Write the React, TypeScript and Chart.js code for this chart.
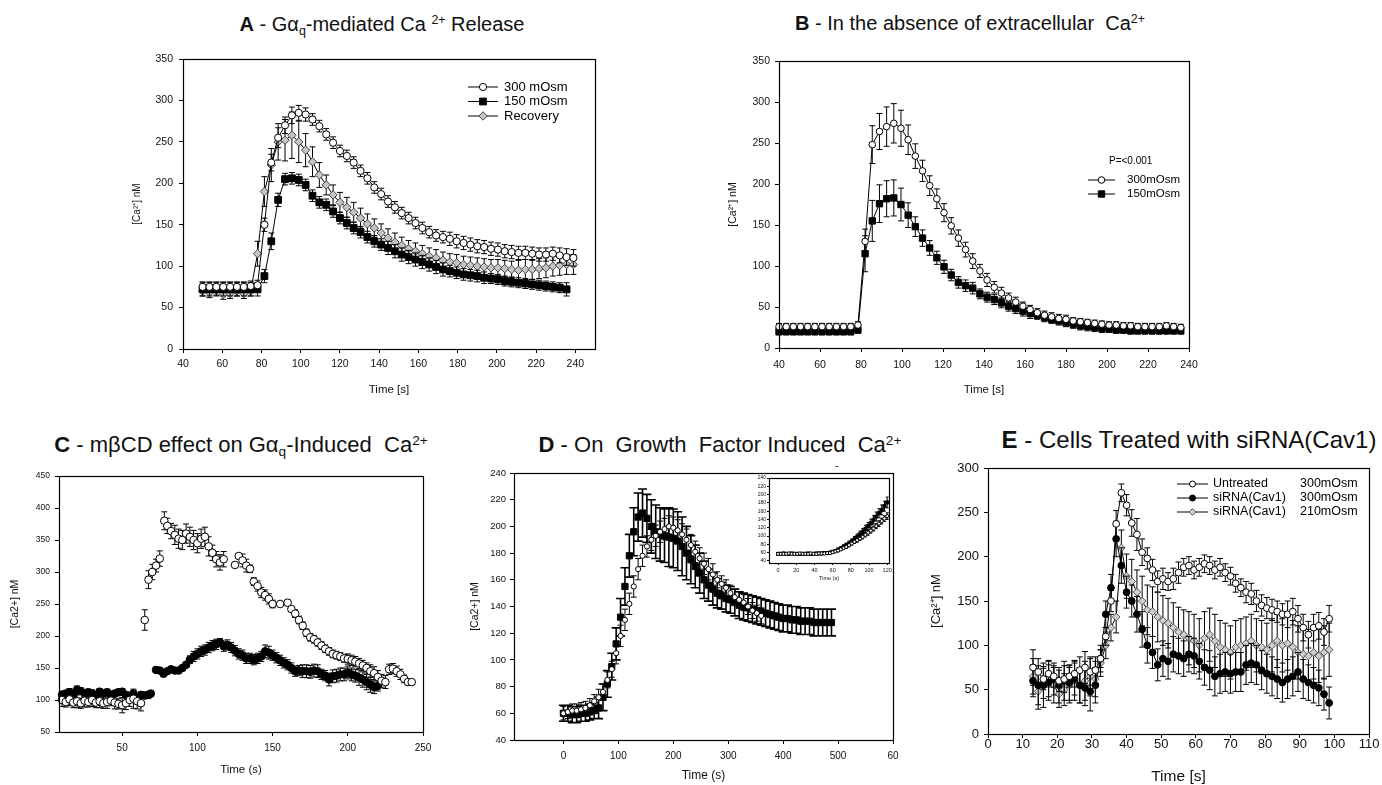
import React, { useEffect, useRef } from 'react';
import { Chart, registerables } from 'chart.js';
Chart.register(...registerables);

const FONT = "'Liberation Sans', Arial, Helvetica, sans-serif";

// ---------------- Panel A data ----------------
const tA = [50, 53.5, 57, 60.5, 64, 67.5, 71, 74.5, 78, 81.5, 85, 88.5, 92, 95.5, 99, 102.5, 106, 109.5, 113, 116.5, 120, 123.5, 127, 130.5, 134, 137.5, 141, 144.5, 148, 151.5, 155, 158.5, 162, 165.5, 169, 172.5, 176, 179.5, 183, 186.5, 190, 193.5, 197, 200.5, 204, 207.5, 211, 214.5, 218, 221.5, 225, 228.5, 232, 235.5, 239];
const a300 = [75, 75, 75, 75, 75, 75, 75, 76, 77, 150, 225, 255, 270, 282, 285, 283, 277, 269, 259, 249, 239, 233, 225, 215, 206, 195, 187, 178, 171, 164, 158, 152, 146, 141, 137, 135, 133, 130, 128, 126, 124, 123, 121, 120, 118, 117, 116, 116, 115, 114, 114, 115, 113, 111, 110];
const a300Err = [6, 6, 6, 6, 6, 6, 6, 6, 6, 8, 10, 12, 10, 10, 9, 8, 7, 7, 7, 7, 7, 7, 7, 7, 7, 7, 7, 7, 7, 7, 7, 7, 7, 7, 7, 7, 8, 8, 8, 8, 8, 8, 8, 8, 8, 8, 8, 8, 8, 8, 8, 8, 9, 10, 10];
const a150 = [72, 72, 72, 72, 72, 72, 72, 72, 72, 88, 130, 180, 205, 206, 204, 198, 185, 177, 174, 166, 158, 152, 146, 141, 135, 130, 126, 122, 118, 114, 111, 108, 105, 102, 99, 96, 94, 92, 90, 89, 88, 86, 85, 84, 82, 81, 80, 79, 78, 77, 76, 75, 74, 72, null];
const a150Err = [8, 8, 8, 8, 8, 8, 8, 8, 8, 8, 10, 8, 7, 7, 7, 7, 7, 7, 7, 7, 7, 7, 7, 7, 7, 7, 7, 8, 8, 8, 8, 8, 8, 8, 8, 8, 7, 7, 7, 7, 7, 7, 6, 6, 6, 6, 6, 6, 6, 6, 6, 6, 6, 8, 0];
const aRec = [70, 68, 71, 66, 67, 70, 67, 70, 115, 190, 222, 250, 252, 258, 250, 240, 226, 210, 198, 186, 177, 171, 165, 158, 151, 146, 140, 134, 129, 125, 121, 118, 115, 112, 110, 107, 105, 104, 102, 101, 100, 99, 98, 98, 97, 96, 95, 96, 96, 97, 98, 100, 101, 102, 102];
const aRecErr = [6, 6, 6, 6, 6, 6, 6, 6, 15, 18, 20, 22, 25, 28, 25, 20, 18, 15, 12, 12, 12, 12, 12, 12, 12, 11, 11, 11, 11, 10, 10, 10, 10, 10, 10, 10, 10, 10, 10, 10, 10, 10, 10, 10, 10, 10, 12, 12, 12, 12, 12, 12, 12, 12, 12];
const aXTicks = [40, 60, 80, 100, 120, 140, 160, 180, 200, 220, 240];
const aYTicks = [0, 50, 100, 150, 200, 250, 300, 350];

// ---------------- Panel B data ----------------
const tB = [40, 43.5, 47, 50.5, 54, 57.5, 61, 64.5, 68, 71.5, 75, 78.5, 82, 85.5, 89, 92.5, 96, 99.5, 103, 106.5, 110, 113.5, 117, 120.5, 124, 127.5, 131, 134.5, 138, 141.5, 145, 148.5, 152, 155.5, 159, 162.5, 166, 169.5, 173, 176.5, 180, 183.5, 187, 190.5, 194, 197.5, 201, 204.5, 208, 211.5, 215, 218.5, 222, 225.5, 229, 232.5, 236];
const b300 = [26, 26, 26, 26, 26, 26, 26, 26, 26, 26, 26, 28, 130, 248, 264, 270, 274, 268, 254, 234, 216, 198, 182, 165, 149, 134, 120, 106, 94, 83, 74, 67, 61, 56, 51, 47, 43, 40, 38, 36, 35, 33, 32, 31, 30, 29, 28, 28, 27, 27, 26, 26, 26, 26, 27, 26, 25];
const b300Err = [4, 4, 4, 4, 4, 4, 4, 4, 4, 4, 4, 4, 15, 23, 22, 24, 24, 22, 18, 15, 13, 12, 12, 11, 10, 10, 9, 9, 8, 8, 7, 7, 6, 6, 5, 5, 5, 5, 5, 5, 5, 4, 4, 4, 4, 4, 4, 4, 4, 4, 4, 4, 4, 4, 4, 4, 4];
const b150 = [20, 20, 20, 20, 20, 20, 20, 20, 20, 20, 20, 22, 115, 155, 176, 182, 183, 175, 162, 148, 134, 122, 110, 99, 89, 80, 76, 73, 66, 62, 59, 55, 51, 48, 45, 42, 40, 37, 35, 33, 31, 29, 27, 26, 25, 24, 23, 22, 22, 21, 21, 21, 21, 21, 21, 21, 21];
const b150Err = [4, 4, 4, 4, 4, 4, 4, 4, 4, 4, 4, 4, 22, 25, 23, 22, 22, 20, 15, 12, 10, 9, 8, 8, 7, 7, 7, 7, 6, 6, 6, 6, 6, 6, 6, 6, 5, 5, 5, 5, 5, 5, 5, 5, 5, 5, 4, 4, 4, 4, 4, 4, 4, 4, 4, 4, 4];
const bXTicks = [40, 60, 80, 100, 120, 140, 160, 180, 200, 220, 240];
const bYTicks = [0, 50, 100, 150, 200, 250, 300, 350];

// ---------------- Panel C data ----------------
const cOpenT = [10, 12.5, 15, 17.5, 20, 22.5, 25, 27.5, 30, 32.5, 35, 37.5, 40, 42.5, 45, 47.5, 50, 52.5, 55, 57.5, 60, 62.5, 65, 67.5, 70, 72.5, 75, 78, 80, 82.5, 85, 87.5, 90, 92.5, 95, 97.5, 100, 102.5, 105, 107.5, 110, 112.5, 115, 117.5, 125, 127.5, 130, 132.5, 135, 137.5, 140, 142.5, 145, 147.5, 150, 155, 160, 162.5, 165, 167.5, 170, 172.5, 175, 177.5, 180, 182.5, 185, 187.5, 190, 192.5, 195, 197.5, 200, 202.5, 205, 207.5, 210, 212.5, 215, 217.5, 220, 222.5, 225, 227.5, 230, 232.5, 235, 237.5, 240, 242.5];
const cOpenY = [100, 97, 101, 96, 98, 95, 99, 97, 100, 96, 98, 95, 97, 99, 96, 94, 92, 95, 100, 102, 98, 95, 225, 288, 300, 310, 321, 380, 372, 364, 358, 352, 350, 360, 355, 350, 345, 352, 355, 340, 330, 320, 315, 320, 311, 325, 318, 310, 305, 285, 278, 268, 264, 258, 250, 250, 252, 242, 235, 225, 216, 205, 198, 195, 190, 185, 180, 176, 172, 170, 168, 165, 164, 162, 160, 157, 154, 150, 145, 142, 136, 130, 128, 148, 149, 145, 140, 133, 128, 128];
const cOpenErr = [10, 8, 10, 8, 10, 8, 10, 8, 10, 8, 10, 8, 10, 8, 10, 8, 12, 10, 10, 15, 12, 12, 16, 14, 12, 10, 12, 14, 12, 12, 15, 15, 15, 15, 15, 15, 15, 15, 15, 15, 12, 12, 12, 12, 4, 4, 10, 10, 6, 6, 8, 8, 8, 8, 6, 4, 4, 4, 6, 6, 6, 6, 6, 6, 6, 6, 6, 6, 6, 6, 6, 6, 8, 8, 8, 8, 8, 8, 10, 10, 10, 10, 10, 8, 8, 8, 8, 6, 4, 4];
const cFillT = [10, 12.5, 15, 17.5, 20, 22.5, 25, 27.5, 30, 32.5, 35, 37.5, 40, 42.5, 45, 47.5, 50, 52.5, 55, 57.5, 60, 62.5, 65, 67.5, 69, 72.5, 75, 77.5, 80, 82.5, 85, 87.5, 90, 92.5, 95, 97.5, 100, 102.5, 105, 107.5, 110, 112.5, 115, 117.5, 120, 122.5, 125, 127.5, 130, 132.5, 135, 137.5, 140, 142.5, 145, 147.5, 150, 152.5, 155, 157.5, 160, 162.5, 165, 167.5, 170, 172.5, 175, 177.5, 180, 182.5, 185, 187.5, 190, 192.5, 195, 197.5, 200, 202.5, 205, 207.5, 210, 212.5, 215, 217.5, 220];
const cFillY = [108, 110, 112, 108, 116, 114, 110, 112, 110, 108, 113, 110, 112, 108, 110, 112, 113, 108, 106, 110, 105, 108, 107, 108, 110, 147, 146, 141, 145, 148, 146, 146, 150, 155, 163, 168, 172, 176, 178, 182, 185, 187, 190, 184, 186, 182, 177, 172, 170, 165, 165, 163, 165, 168, 176, 174, 170, 166, 162, 158, 155, 150, 145, 146, 145, 145, 144, 146, 145, 140, 138, 132, 137, 138, 140, 140, 143, 140, 138, 135, 132, 128, 124, 120, 122];
const cFillErr = [6, 5, 6, 5, 6, 5, 6, 5, 6, 5, 5, 5, 5, 5, 5, 5, 5, 5, 5, 5, 5, 5, 5, 5, 5, 4, 4, 4, 4, 4, 4, 4, 4, 4, 6, 8, 8, 8, 8, 8, 8, 8, 6, 8, 8, 8, 8, 8, 8, 8, 8, 8, 8, 8, 10, 10, 8, 8, 8, 8, 8, 8, 8, 8, 10, 10, 10, 10, 10, 8, 8, 10, 10, 10, 10, 10, 10, 10, 10, 12, 12, 12, 12, 10, 8];
const cXTicks = [50, 100, 150, 200, 250];
const cYTicks = [50, 100, 150, 200, 250, 300, 350, 400, 450];

// ---------------- Panel D data ----------------
const tD = [0, 8, 16, 24, 32, 40, 48, 56, 64, 72, 80, 88, 96, 104, 112, 120, 128, 136, 144, 152, 160, 168, 176, 184, 192, 200, 208, 216, 224, 232, 240, 248, 256, 264, 272, 280, 288, 296, 304, 312, 320, 328, 336, 344, 352, 360, 368, 376, 384, 392, 400, 408, 416, 424, 432, 440, 448, 456, 464, 472, 480, 488];
const dBlack = [60, 60, 59, 59, 60, 60, 61, 62, 64, 72, 82, 95, 112, 132, 155, 178, 196, 207, 210, 206, 200, 196, 194, 193, 192, 191, 189, 185, 180, 175, 170, 165, 160, 156, 153, 150, 148, 146, 145, 143, 141, 140, 139, 138, 137, 136, 135, 134, 133, 132, 131, 131, 130, 130, 129, 129, 129, 128, 128, 128, 128, 128];
const dBlackErr = [6, 6, 6, 6, 6, 6, 6, 6, 8, 10, 10, 10, 12, 14, 14, 16, 18, 18, 18, 18, 20, 20, 20, 20, 22, 22, 22, 22, 20, 18, 16, 15, 14, 12, 12, 11, 10, 10, 10, 10, 10, 10, 10, 10, 10, 10, 10, 10, 10, 10, 10, 10, 10, 10, 10, 10, 10, 10, 10, 10, 10, 10];
const dWhite = [60, 61, 62, 62, 63, 64, 66, 69, 72, 76, 85, 93, 105, 118, 130, 142, 155, 168, 178, 185, 190, 193, 196, 198, 200, 199, 197, 194, 190, 186, 181, 176, 172, 168, 164, 160, 157, 154, 150, 147, 145, 143, 140, 137, 135, 133];
const dWhiteErr = [5, 5, 5, 5, 5, 5, 5, 5, 6, 6, 6, 6, 8, 8, 8, 8, 8, 8, 8, 8, 8, 8, 8, 8, 8, 8, 8, 8, 8, 8, 8, 8, 8, 8, 8, 6, 6, 6, 6, 6, 6, 6, 6, 6, 6, 6];
const dXTicks = [0, 100, 200, 300, 400, 500, 600];
const dXTickLabels = ['0', '100', '200', '300', '400', '500', '60'];
const dYTicks = [40, 60, 80, 100, 120, 140, 160, 180, 200, 220, 240];

// inset of D
const tIn = [0, 3, 6, 9, 12, 15, 18, 21, 24, 27, 30, 33, 36, 39, 42, 45, 48, 51, 54, 57, 60, 63, 66, 69, 72, 75, 78, 81, 84, 87, 90, 93, 96, 99, 102, 105, 108, 111, 114, 117, 120];
const inBlack = [57, 57, 58, 57, 57, 58, 57, 57, 57, 57, 57, 58, 57, 57, 58, 58, 58, 59, 59, 60, 62, 64, 67, 70, 74, 78, 82, 87, 92, 98, 104, 110, 117, 124, 131, 139, 147, 155, 163, 172, 181];
const inBlackErr = [2, 2, 2, 2, 2, 2, 2, 2, 2, 2, 2, 2, 2, 2, 2, 2, 2, 2, 2, 3, 3, 3, 4, 4, 5, 5, 6, 6, 7, 7, 8, 8, 9, 9, 10, 10, 11, 11, 12, 12, 13];
const inWhite = [57, 57, 57, 57, 58, 57, 57, 57, 58, 57, 57, 57, 58, 57, 57, 58, 58, 58, 59, 59, 61, 63, 65, 68, 71, 74, 78, 82, 86, 90, 94, 98, 103, 108, 113, 118, 124, 130, 136, 142, 148];
const inWhiteErr = [2, 2, 2, 2, 2, 2, 2, 2, 2, 2, 2, 2, 2, 2, 2, 2, 2, 2, 2, 2, 2, 3, 3, 3, 3, 4, 4, 4, 4, 5, 5, 5, 5, 6, 6, 6, 6, 7, 7, 7, 8];
const inXTicks = [0, 20, 40, 60, 80, 100, 120];
const inYTicks = [40, 60, 80, 100, 120, 140, 160, 180, 200, 220, 240];

// ---------------- Panel E data ----------------
const tE = [13, 14.5, 16, 17.5, 19, 20.5, 22, 23.5, 25, 26.5, 28, 29.5, 31, 32.5, 34, 35.5, 37, 38.5, 40, 41.5, 43, 44.5, 46, 47.5, 49, 50.5, 52, 53.5, 55, 56.5, 58, 59.5, 61, 62.5, 64, 65.5, 67, 68.5, 70, 71.5, 73, 74.5, 76, 77.5, 79, 80.5, 82, 83.5, 85, 86.5, 88, 89.5, 91, 92.5, 94, 95.5, 97, 98.5];
const eUntreated = [75, 70, 62, 68, 65, 60, 62, 65, 68, 72, 75, 70, 72, 85, 110, 150, 237, 272, 258, 238, 225, 205, 198, 185, 172, 175, 172, 175, 182, 188, 190, 185, 188, 192, 190, 185, 188, 182, 178, 170, 165, 160, 158, 150, 145, 142, 140, 138, 135, 135, 138, 130, 120, 112, 120, 122, 115, 130];
const eUntreatedErr = [20, 15, 12, 15, 12, 12, 15, 12, 15, 15, 18, 15, 15, 10, 10, 12, 15, 10, 12, 15, 18, 15, 12, 12, 12, 12, 10, 12, 12, 10, 10, 10, 10, 10, 10, 10, 10, 10, 10, 10, 10, 12, 12, 12, 12, 12, 12, 12, 12, 15, 15, 15, 15, 15, 15, 15, 15, 15];
const eSi300 = [60, 55, 55, 58, 62, 55, 60, 58, 62, 55, 52, 48, 55, 85, 135, 165, 220, 190, 160, 150, 135, 118, 100, 92, 78, 85, 82, 90, 88, 85, 90, 88, 82, 75, 72, 65, 68, 70, 68, 70, 70, 78, 80, 78, 72, 68, 65, 62, 58, 62, 65, 70, 62, 58, 55, 52, 45, 35];
const eSi300Err = [18, 22, 25, 20, 18, 20, 22, 20, 18, 20, 20, 22, 20, 15, 15, 15, 20, 20, 18, 18, 20, 20, 20, 18, 18, 20, 20, 20, 20, 20, 20, 20, 20, 20, 22, 22, 22, 22, 22, 22, 22, 22, 22, 22, 22, 22, 22, 22, 22, 22, 22, 22, 22, 20, 20, 20, 18, 18];
const eSi210 = [65, 48, 58, 62, 55, 45, 50, 55, 60, 55, 60, 65, 62, 80, 100, 120, 132, 210, 178, 172, 160, 150, 140, 138, 132, 128, 125, 120, 115, 112, 108, 105, 100, 108, 112, 105, 98, 95, 92, 98, 100, 102, 105, 100, 98, 95, 100, 105, 100, 102, 98, 92, 90, 88, 92, 88, 92, 95];
const eSi210Err = [20, 20, 18, 20, 20, 15, 18, 20, 22, 20, 22, 22, 20, 15, 15, 15, 18, 20, 25, 25, 25, 28, 28, 28, 28, 28, 28, 28, 28, 28, 30, 30, 30, 30, 30, 30, 30, 30, 30, 30, 30, 30, 30, 30, 30, 30, 30, 30, 30, 30, 30, 30, 30, 30, 30, 30, 30, 30];
const eXTicks = [0, 10, 20, 30, 40, 50, 60, 70, 80, 90, 100, 110];
const eYTicks = [0, 50, 100, 150, 200, 250, 300];

// ---------------- helpers ----------------
type Pt = { x: number; y: number; e: number };
function pts(t: number[], y: (number | null)[], e: number[]): Pt[] {
  const out: Pt[] = [];
  t.forEach((x, i) => {
    const v = y[i];
    if (v !== null && v !== undefined) out.push({ x, y: v, e: e[i] ?? 0 });
  });
  return out;
}

function drawMarker(ctx: CanvasRenderingContext2D, style: string, x: number, y: number, r: number, fill: string, stroke: string) {
  ctx.beginPath();
  if (style === 'circle') ctx.arc(x, y, r, 0, Math.PI * 2);
  else if (style === 'rect') {
    const s = r * Math.SQRT1_2;
    ctx.rect(x - s, y - s, 2 * s, 2 * s);
  } else {
    ctx.moveTo(x - r, y);
    ctx.lineTo(x, y - r);
    ctx.lineTo(x + r, y);
    ctx.lineTo(x, y + r);
    ctx.closePath();
  }
  ctx.fillStyle = fill;
  ctx.fill();
  ctx.lineWidth = 1;
  ctx.strokeStyle = stroke;
  ctx.stroke();
}

const errorBarPlugin = {
  id: 'errbars',
  beforeDatasetDraw(chart: any, args: any) {
    const ds = chart.data.datasets[args.index];
    if (!ds.errorBars) return;
    const meta = args.meta;
    const xs = chart.scales[meta.xAxisID];
    const ys = chart.scales[meta.yAxisID];
    const ctx = chart.ctx as CanvasRenderingContext2D;
    const cap = ds.capWidth ?? 3;
    ctx.save();
    ctx.strokeStyle = ds.errorColor || '#000';
    ctx.lineWidth = ds.errorWidth || 1;
    ctx.beginPath();
    (ds.data as Pt[]).forEach((p) => {
      if (!p.e) return;
      const x = xs.getPixelForValue(p.x);
      const y1 = ys.getPixelForValue(p.y + p.e);
      const y2 = ys.getPixelForValue(p.y - p.e);
      ctx.moveTo(x, y1);
      ctx.lineTo(x, y2);
      ctx.moveTo(x - cap, y1);
      ctx.lineTo(x + cap, y1);
      ctx.moveTo(x - cap, y2);
      ctx.lineTo(x + cap, y2);
    });
    ctx.stroke();
    ctx.restore();
  },
};

const framePlugin = {
  id: 'frame',
  afterDraw(chart: any) {
    const a = chart.chartArea;
    const ctx = chart.ctx as CanvasRenderingContext2D;
    ctx.save();
    ctx.strokeStyle = '#000';
    ctx.lineWidth = 1.2;
    ctx.strokeRect(Math.round(a.left) + 0.5, Math.round(a.top) + 0.5, Math.round(a.right - a.left), Math.round(a.bottom - a.top));
    ctx.restore();
  },
};

function legendPlugin(cfg: any) {
  return {
    id: 'legendBox',
    afterDraw(chart: any) {
      if (!cfg) return;
      const ctx = chart.ctx as CanvasRenderingContext2D;
      ctx.save();
      ctx.textBaseline = 'middle';
      ctx.textAlign = 'left';
      (cfg.notes || []).forEach((n: any) => {
        ctx.font = `${n.size}px ${FONT}`;
        ctx.fillStyle = '#000';
        ctx.fillText(n.text, n.x, n.y);
      });
      (cfg.items || []).forEach((it: any, i: number) => {
        const y = cfg.y + i * cfg.rowH;
        ctx.strokeStyle = '#000';
        ctx.lineWidth = 1;
        ctx.beginPath();
        ctx.moveTo(cfg.x, y);
        ctx.lineTo(cfg.x + cfg.lineLen, y);
        ctx.stroke();
        drawMarker(ctx, it.style, cfg.x + cfg.lineLen / 2, y, it.r, it.fill, it.stroke);
        ctx.font = `${cfg.size}px ${FONT}`;
        ctx.fillStyle = '#000';
        ctx.fillText(it.text, cfg.textX, y);
        if (it.text2) ctx.fillText(it.text2, cfg.textX2, y);
      });
      ctx.restore();
    },
  };
}

type AxisSpec = {
  min: number; max: number; ticks: number[]; labels?: string[];
  tickFont: number; tickPad: number; tickLen: number; tickLH?: number;
  title?: string; titleFont?: number; titlePad?: number; titleLH?: number;
};

function axis(a: AxisSpec, horizontal: boolean, size: number) {
  return {
    type: 'linear',
    min: a.min,
    max: a.max,
    afterBuildTicks: (s: any) => { s.ticks = a.ticks.map((v) => ({ value: v })); },
    afterFit: (s: any) => { if (horizontal) s.height = size; else s.width = size; },
    ticks: {
      autoSkip: false, maxRotation: 0, minRotation: 0, color: '#111', padding: a.tickPad,
      font: { family: FONT, size: a.tickFont, lineHeight: a.tickLH ?? 1.2 },
      callback: (v: any, i: number) => (a.labels ? a.labels[i] : String(v)),
    },
    grid: { display: true, drawOnChartArea: false, drawTicks: true, tickLength: a.tickLen, tickColor: '#000', color: '#000', tickWidth: 1 },
    border: { display: false },
    title: {
      display: !!a.title, text: a.title || '', color: '#111',
      font: { family: FONT, size: a.titleFont || 10, lineHeight: a.titleLH ?? 1.2 },
      padding: horizontal ? { top: 0, bottom: a.titlePad || 0 } : { top: a.titlePad || 0, bottom: 0 },
    },
  };
}

type Box = { x: number; y: number; w: number; h: number };
type PlotRect = { l: number; t: number; r: number; b: number };
type PanelSpec = { canvas: Box; plot: PlotRect; x: AxisSpec; y: AxisSpec; datasets: any[]; legend?: any };

function buildConfig(s: PanelSpec): any {
  const c = s.canvas, p = s.plot;
  return {
    type: 'scatter',
    data: { datasets: s.datasets },
    options: {
      responsive: false,
      maintainAspectRatio: false,
      animation: false,
      devicePixelRatio: 1,
      events: [],
      layout: { padding: { left: 0, top: p.t - c.y, right: c.x + c.w - p.r, bottom: 0 } },
      plugins: { legend: { display: false }, tooltip: { enabled: false }, title: { display: false } },
      scales: { x: axis(s.x, true, c.y + c.h - p.b), y: axis(s.y, false, p.l - c.x) },
    },
    plugins: [errorBarPlugin, framePlugin, legendPlugin(s.legend)],
  };
}

function series(label: string, data: Pt[], o: any) {
  return {
    label, data,
    showLine: o.line ?? true,
    borderColor: '#000', borderWidth: 1, fill: false, tension: 0,
    pointStyle: o.style, pointRadius: o.r, pointHoverRadius: o.r,
    pointBackgroundColor: o.fill, pointBorderColor: o.stroke || '#000', pointBorderWidth: 1,
    clip: false,
    errorBars: true, capWidth: o.cap ?? 3, errorColor: o.errColor || '#000', errorWidth: o.errW || 1,
  };
}

// ---------------- panel specs ----------------
const specA: PanelSpec = {
  canvas: { x: 120, y: 40, w: 500, h: 360 },
  plot: { l: 183, t: 59, r: 595, b: 349 },
  x: { min: 40, max: 250, ticks: aXTicks, tickFont: 10.5, tickPad: 4.7, tickLen: 4, title: 'Time [s]', titleFont: 11.5, titlePad: 3.1 },
  y: { min: 0, max: 350, ticks: aYTicks, tickFont: 10.5, tickPad: 6, tickLen: 4, title: '[Ca²⁺] nM', titleFont: 10, titlePad: 11 },
  datasets: [
    series('300 mOsm', pts(tA, a300, a300Err), { style: 'circle', r: 3.6, fill: '#fff' }),
    series('150 mOsm', pts(tA, a150, a150Err), { style: 'rect', r: 4.8, fill: '#000' }),
    series('Recovery', pts(tA, aRec, aRecErr), { style: 'rectRot', r: 4.2, fill: '#c4c4c4', stroke: '#444' }),
  ],
  legend: {
    x: 348, y: 47, rowH: 14.5, lineLen: 30, textX: 384, size: 13,
    items: [
      { style: 'circle', r: 3.6, fill: '#fff', stroke: '#000', text: '300 mOsm' },
      { style: 'rect', r: 4.8, fill: '#000', stroke: '#000', text: '150 mOsm' },
      { style: 'rectRot', r: 4.2, fill: '#c4c4c4', stroke: '#444', text: 'Recovery' },
    ],
  },
};

const specB: PanelSpec = {
  canvas: { x: 690, y: 40, w: 530, h: 360 },
  plot: { l: 779, t: 61, r: 1189, b: 348 },
  x: { min: 40, max: 240, ticks: bXTicks, tickFont: 10.5, tickPad: 6.7, tickLen: 4, title: 'Time [s]', titleFont: 11.5, titlePad: 3.1 },
  y: { min: 0, max: 350, ticks: bYTicks, tickFont: 10.5, tickPad: 5, tickLen: 4, title: '[Ca²⁺] nM', titleFont: 10.5, titlePad: 37 },
  datasets: [
    series('300mOsm', pts(tB, b300, b300Err), { style: 'circle', r: 3.3, fill: '#fff' }),
    series('150mOsm', pts(tB, b150, b150Err), { style: 'rect', r: 4.5, fill: '#000' }),
  ],
  legend: {
    x: 398, y: 140, rowH: 14, lineLen: 27, textX: 437, size: 11.5,
    notes: [{ text: 'P=<0.001', x: 419, y: 121, size: 10 }],
    items: [
      { style: 'circle', r: 3.3, fill: '#fff', stroke: '#000', text: '300mOsm' },
      { style: 'rect', r: 4.5, fill: '#000', stroke: '#000', text: '150mOsm' },
    ],
  },
};

const specC: PanelSpec = {
  canvas: { x: 0, y: 450, w: 440, h: 335 },
  plot: { l: 59, t: 476, r: 423, b: 732 },
  x: { min: 8, max: 250, ticks: cXTicks, tickFont: 10, tickPad: 6, tickLen: 4, title: 'Time (s)', titleFont: 11.5, titlePad: 8 },
  y: { min: 50, max: 450, ticks: cYTicks, tickFont: 8.5, tickPad: 5, tickLen: 4, title: '[Ca2+] nM', titleFont: 10.5, titlePad: 9 },
  datasets: [
    series('open', pts(cOpenT, cOpenY, cOpenErr), { style: 'circle', r: 3.8, fill: '#fff', line: false }),
    series('filled', pts(cFillT, cFillY, cFillErr), { style: 'circle', r: 3.8, fill: '#000', line: false }),
  ],
};

const specD: PanelSpec = {
  canvas: { x: 460, y: 450, w: 460, h: 335 },
  plot: { l: 514, t: 473, r: 893, b: 740 },
  x: { min: -90, max: 600, ticks: dXTicks, labels: dXTickLabels, tickFont: 10, tickPad: 6, tickLen: 4, title: 'Time (s)', titleFont: 12, titlePad: 1.8 },
  y: { min: 40, max: 240, ticks: dYTicks, tickFont: 9.5, tickPad: 4, tickLen: 4, title: '[Ca2+] nM', titleFont: 10.5, titlePad: 9 },
  datasets: [
    series('white', pts(tD, dWhite, dWhiteErr), { style: 'circle', r: 2.6, fill: '#fff', line: false, cap: 3 }),
    series('black', pts(tD, dBlack, dBlackErr), { style: 'rect', r: 4.4, fill: '#000', line: false, cap: 4.5, errW: 1.6 }),
  ],
};

const specInset: PanelSpec = {
  canvas: { x: 745, y: 470, w: 155, h: 115 },
  plot: { l: 769, t: 478, r: 889, b: 563 },
  x: { min: -10, max: 122, ticks: inXTicks, tickFont: 5.5, tickPad: 2, tickLen: 2, title: 'Time (s)', titleFont: 5.5, titlePad: 3.5 },
  y: { min: 35, max: 240, ticks: inYTicks, tickFont: 5, tickPad: 1, tickLen: 2 },
  datasets: [
    series('white', pts(tIn, inWhite, inWhiteErr), { style: 'circle', r: 1.6, fill: '#fff', line: false, cap: 1.5 }),
    series('black', pts(tIn, inBlack, inBlackErr), { style: 'rect', r: 2.2, fill: '#000', line: false, cap: 1.5 }),
  ],
};

const specE: PanelSpec = {
  canvas: { x: 920, y: 450, w: 462, h: 335 },
  plot: { l: 988, t: 468, r: 1369, b: 734 },
  x: { min: 0, max: 110, ticks: eXTicks, tickFont: 13, tickLH: 1, tickPad: 0, tickLen: 4, title: 'Time [s]', titleFont: 15.5, titleLH: 1, titlePad: 0.3 },
  y: { min: 0, max: 300, ticks: eYTicks, tickFont: 13, tickPad: 5, tickLen: 4, title: '[Ca²⁺] nM', titleFont: 13, titlePad: 9 },
  datasets: [
    series('Untreated 300mOsm', pts(tE, eUntreated, eUntreatedErr), { style: 'circle', r: 3.4, fill: '#fff' }),
    series('siRNA(Cav1) 300mOsm', pts(tE, eSi300, eSi300Err), { style: 'circle', r: 3.4, fill: '#000' }),
    series('siRNA(Cav1) 210mOsm', pts(tE, eSi210, eSi210Err), { style: 'rectRot', r: 3.8, fill: '#cfcfcf', stroke: '#555' }),
  ],
  legend: {
    x: 257, y: 34, rowH: 14, lineLen: 31, textX: 293, textX2: 380, size: 12.5,
    items: [
      { style: 'circle', r: 3, fill: '#fff', stroke: '#000', text: 'Untreated', text2: '300mOsm' },
      { style: 'circle', r: 3, fill: '#000', stroke: '#000', text: 'siRNA(Cav1)', text2: '300mOsm' },
      { style: 'rectRot', r: 3.4, fill: '#cfcfcf', stroke: '#555', text: 'siRNA(Cav1)', text2: '210mOsm' },
    ],
  },
};

// ---------------- components ----------------
function ChartCanvas({ spec }: { spec: PanelSpec }) {
  const ref = useRef<HTMLCanvasElement>(null);
  useEffect(() => {
    if (!ref.current) return;
    const chart = new Chart(ref.current, buildConfig(spec));
    return () => chart.destroy();
  }, [spec]);
  const c = spec.canvas;
  return (
    <canvas
      ref={ref}
      width={c.w}
      height={c.h}
      style={{ position: 'absolute', left: c.x, top: c.y, width: c.w, height: c.h }}
    />
  );
}

const subStyle: React.CSSProperties = { fontSize: '0.62em', verticalAlign: '-0.32em', lineHeight: 0 };
const supStyle: React.CSSProperties = { fontSize: '0.62em', verticalAlign: '0.55em', lineHeight: 0 };

function Title({ cx, cy, size, children }: { cx: number; cy: number; size: number; children: React.ReactNode }) {
  return (
    <div
      style={{
        position: 'absolute', left: cx, top: cy - size / 2, transform: 'translateX(-50%)',
        fontFamily: FONT, fontSize: size, lineHeight: 1, whiteSpace: 'nowrap', color: '#111',
      }}
    >
      {children}
    </div>
  );
}

export default function App() {
  return (
    <div style={{ position: 'absolute', left: 0, top: 0, width: 1382, height: 785, background: '#fff', overflow: 'hidden' }}>
      <Title cx={382} cy={24} size={20}>
        <b>A</b> - Gα<span style={subStyle}>q</span>-mediated Ca <span style={supStyle}>2+</span> Release
      </Title>
      <Title cx={970} cy={23} size={20}>
        <b>B</b> - In the absence of extracellular&nbsp; Ca<span style={supStyle}>2+</span>
      </Title>
      <Title cx={241} cy={445} size={22}>
        <b>C</b> - mβCD effect on Gα<span style={subStyle}>q</span>-Induced&nbsp; Ca<span style={supStyle}>2+</span>
      </Title>
      <Title cx={720} cy={445} size={22}>
        <b>D</b> - On&nbsp; Growth&nbsp; Factor Induced&nbsp; Ca<span style={supStyle}>2+</span>
      </Title>
      <Title cx={1189} cy={440} size={24}>
        <b>E</b> - Cells Treated with siRNA(Cav1)
      </Title>
      <ChartCanvas spec={specA} />
      <ChartCanvas spec={specB} />
      <ChartCanvas spec={specC} />
      <ChartCanvas spec={specD} />
      <ChartCanvas spec={specInset} />
      <ChartCanvas spec={specE} />
      <div style={{ position: 'absolute', left: 835, top: 460, fontFamily: FONT, fontSize: 11, lineHeight: 1, color: '#111' }}>-</div>
    </div>
  );
}
